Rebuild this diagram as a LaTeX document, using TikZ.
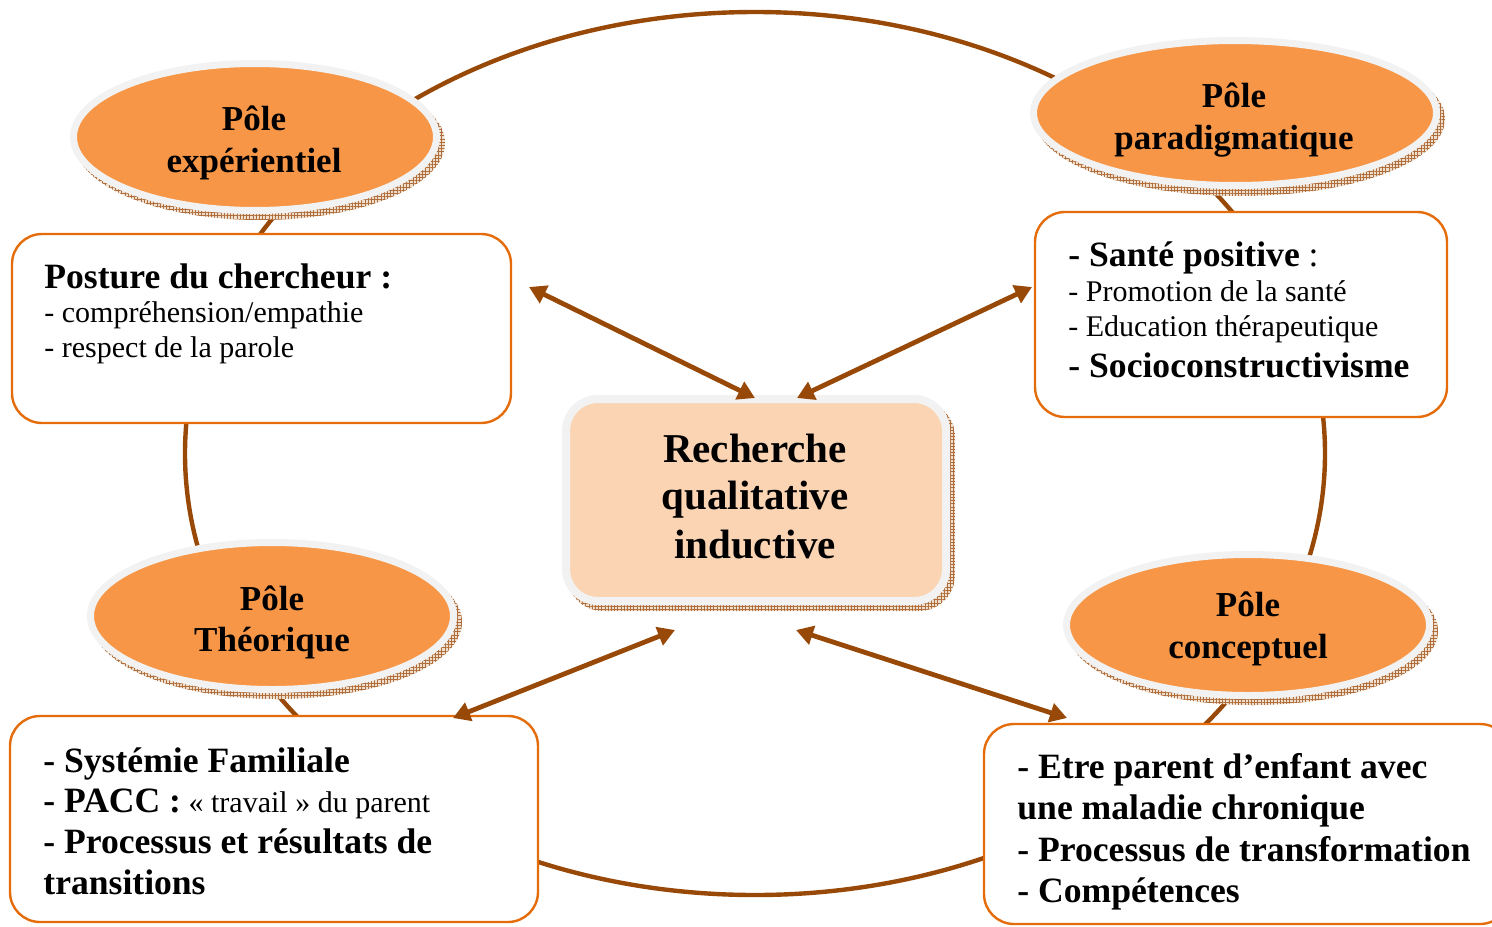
\documentclass[tikz,border=0pt]{standalone}
\usepackage{fontspec}
\setmainfont{Liberation Serif}
\usetikzlibrary{arrows.meta,shapes.geometric,patterns.meta}
\definecolor{arrowbrown}{RGB}{152,72,7}
\definecolor{poleorange}{RGB}{247,150,70}
\definecolor{boxorange}{RGB}{228,108,10}
\definecolor{centerfill}{RGB}{251,212,180}
\definecolor{rimgray}{RGB}{242,242,242}
\definecolor{shadowfill}{RGB}{238,222,206}
\definecolor{hatchbrown}{RGB}{176,110,60}
\begin{document}
\begin{tikzpicture}[x=0.5pt,y=-0.5pt,
  polering/.style={ellipse, draw=rimgray, line width=3.5pt, fill=poleorange, inner sep=0pt, minimum width=181.5pt, minimum height=73.5pt},
  poleshadow/.style={ellipse, inner sep=0pt, minimum width=185pt, minimum height=77pt, preaction={fill=shadowfill}, pattern={Hatch[distance=1.6pt,line width=0.25pt]}, pattern color=hatchbrown},
  infobox/.style={draw=boxorange, line width=1.2pt, fill=white, rounded corners=15pt, inner sep=0pt},
  centerbox/.style={draw=rimgray, line width=4pt, fill=centerfill, rounded corners=16pt, inner sep=0pt, minimum width=190pt, minimum height=101pt},
  centershadow/.style={rounded corners=18pt, inner sep=0pt, minimum width=194pt, minimum height=105pt, preaction={fill=shadowfill}, pattern={Hatch[distance=1.6pt,line width=0.25pt]}, pattern color=hatchbrown},
  cycleline/.style={draw=arrowbrown, line width=2.2pt},
  linkarrow/.style={draw=arrowbrown, line width=2.4pt, {Triangle[length=8.5pt,width=9.5pt]}-{Triangle[length=8.5pt,width=9.5pt]}},
  poletext/.style={font=\fontsize{17.5}{21}\selectfont\bfseries, anchor=base, inner sep=0pt},
  centertext/.style={font=\fontsize{20.5}{24}\selectfont\bfseries, anchor=base, inner sep=0pt},
  boldline/.style={font=\fontsize{17.8}{21}\selectfont\bfseries, anchor=base west, inner sep=0pt},
  plainline/.style={font=\fontsize{15}{18}\selectfont, anchor=base west, inner sep=0pt},
]
\useasboundingbox (0,0) rectangle (1492,926);
\clip (0,0) rectangle (1492,926);

% ring linking the four poles
\coordinate (ringc) at (755,453.5);
\draw[cycleline] (ringc) ellipse [x radius=570, y radius=441.5];

% pole shadows
\node[poleshadow] (e1s) at (260,143) {};
\node[poleshadow, minimum width=205pt] (e2s) at (1240,119) {};
\node[poleshadow] (e3s) at (277,622) {};
\node[poleshadow, minimum height=74pt] (e4s) at (1253,631) {};

% poles
\node[polering] (e1) at (255,137) {};
\node[polering, minimum width=201.5pt, minimum height=72.5pt] (e2) at (1235,113) {};
\node[polering] (e3) at (272,616) {};
\node[polering, minimum height=70.5pt] (e4) at (1248,625) {};

% info boxes
\node[infobox, minimum width=249.5pt, minimum height=94.5pt] (b1) at (261.5,328.5) {};
\node[infobox, minimum width=206pt, minimum height=102.5pt] (b2) at (1241,314.5) {};
\node[infobox, minimum width=264pt, minimum height=103pt] (b3) at (274,819) {};
\node[infobox, minimum width=263pt, minimum height=100pt] (b4) at (1247,824) {};

% central box
\node[centershadow] (cs) at (761,506) {};
\node[centerbox] (cb) at (756,500) {};

% arrows
\coordinate (a1s) at (529,287);  \coordinate (a1e) at (755,398);
\coordinate (a2s) at (1032,287); \coordinate (a2e) at (797,398);
\coordinate (a3s) at (453,718);  \coordinate (a3e) at (675,630);
\coordinate (a4s) at (1067,718); \coordinate (a4e) at (796,630);
\draw[linkarrow] (a1s) -- (a1e);
\draw[linkarrow] (a2s) -- (a2e);
\draw[linkarrow] (a3s) -- (a3e);
\draw[linkarrow] (a4s) -- (a4e);

% pole texts
\node[poletext] (e1a) at (254,130) {Pôle};
\node[poletext] (e1b) at (254,172) {expérientiel};
\node[poletext] (e2a) at (1234,107) {Pôle};
\node[poletext] (e2b) at (1234,149) {paradigmatique};
\node[poletext] (e3a) at (272,610) {Pôle};
\node[poletext] (e3b) at (272,651) {Théorique};
\node[poletext] (e4a) at (1248,616) {Pôle};
\node[poletext] (e4b) at (1248,658) {conceptuel};

% central text
\node[centertext] (c1) at (755,462) {Recherche};
\node[centertext] (c2) at (755,509) {qualitative};
\node[centertext] (c3) at (755,558) {inductive};

% box 1
\node[boldline] (t11) at (44,288) {Posture du chercheur :};
\node[plainline] (t12) at (44,322) {- compréhension/empathie};
\node[plainline] (t13) at (44,357) {- respect de la parole};

% box 2
\node[boldline] (t21) at (1068,266) {- Santé positive\mdseries\ :};
\node[plainline] (t22) at (1068,301) {- Promotion de la santé};
\node[plainline] (t23) at (1068,336) {- Education thérapeutique};
\node[boldline] (t24) at (1068,377) {- Socioconstructivisme};

% box 3
\node[boldline] (t31) at (43,772) {- Systémie Familiale};
\node[boldline] (t32) at (43,812) {- PACC :\fontsize{15}{18}\selectfont\mdseries\ « travail » du parent};
\node[boldline] (t33) at (43,853) {- Processus et résultats de};
\node[boldline] (t34) at (43,894) {transitions};

% box 4
\node[boldline] (t41) at (1017,778) {- Etre parent d’enfant avec};
\node[boldline] (t42) at (1017,819) {une maladie chronique};
\node[boldline] (t43) at (1017,861) {- Processus de transformation};
\node[boldline] (t44) at (1017,902) {- Compétences};
\end{tikzpicture}
\end{document}
